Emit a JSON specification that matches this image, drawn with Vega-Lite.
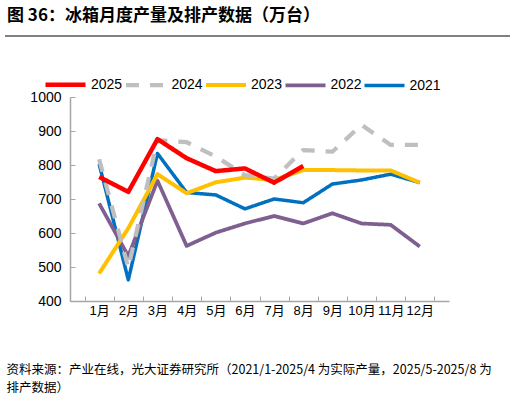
{
  "$schema": "https://vega.github.io/schema/vega-lite/v6.json",
  "width": 379,
  "height": 204,
  "autosize": "none",
  "padding": {"left": 70, "top": 97, "right": 67, "bottom": 98},
  "background": "white",
  "config": {
    "view": {"stroke": null},
    "font": "Liberation Sans, Noto Sans CJK SC",
    "axis": {"grid": false, "domainColor": "#A6A6A6", "tickColor": "#A6A6A6", "labelColor": "#000000", "labelFont": "Liberation Sans, Noto Sans CJK SC"}
  },
  "title": {
    "text": "图 36：冰箱月度产量及排产数据（万台）",
    "anchor": "start",
    "frame": "group",
    "font": "Noto Sans CJK SC",
    "fontSize": 17,
    "fontWeight": "bold",
    "color": "#000000",
    "dx": -63,
    "offset": 10
  },
  "datasets": {
    "prod": [
      {"month": "1月", "year": "2021", "value": 803},
      {"month": "2月", "year": "2021", "value": 462},
      {"month": "3月", "year": "2021", "value": 834},
      {"month": "4月", "year": "2021", "value": 719},
      {"month": "5月", "year": "2021", "value": 712},
      {"month": "6月", "year": "2021", "value": 671},
      {"month": "7月", "year": "2021", "value": 700},
      {"month": "8月", "year": "2021", "value": 689},
      {"month": "9月", "year": "2021", "value": 744},
      {"month": "10月", "year": "2021", "value": 756},
      {"month": "11月", "year": "2021", "value": 773},
      {"month": "12月", "year": "2021", "value": 748},
      {"month": "1月", "year": "2022", "value": 687},
      {"month": "2月", "year": "2022", "value": 532},
      {"month": "3月", "year": "2022", "value": 754},
      {"month": "4月", "year": "2022", "value": 562},
      {"month": "5月", "year": "2022", "value": 601},
      {"month": "6月", "year": "2022", "value": 628},
      {"month": "7月", "year": "2022", "value": 650},
      {"month": "8月", "year": "2022", "value": 628},
      {"month": "9月", "year": "2022", "value": 658},
      {"month": "10月", "year": "2022", "value": 628},
      {"month": "11月", "year": "2022", "value": 624},
      {"month": "12月", "year": "2022", "value": 560},
      {"month": "1月", "year": "2023", "value": 481},
      {"month": "2月", "year": "2023", "value": 614},
      {"month": "3月", "year": "2023", "value": 773},
      {"month": "4月", "year": "2023", "value": 717},
      {"month": "5月", "year": "2023", "value": 749},
      {"month": "6月", "year": "2023", "value": 763},
      {"month": "7月", "year": "2023", "value": 756},
      {"month": "8月", "year": "2023", "value": 785},
      {"month": "9月", "year": "2023", "value": 785},
      {"month": "10月", "year": "2023", "value": 784},
      {"month": "11月", "year": "2023", "value": 784},
      {"month": "12月", "year": "2023", "value": 748},
      {"month": "1月", "year": "2024", "value": 817},
      {"month": "2月", "year": "2024", "value": 498},
      {"month": "3月", "year": "2024", "value": 873},
      {"month": "4月", "year": "2024", "value": 867},
      {"month": "5月", "year": "2024", "value": 825},
      {"month": "6月", "year": "2024", "value": 770},
      {"month": "7月", "year": "2024", "value": 760},
      {"month": "8月", "year": "2024", "value": 844},
      {"month": "9月", "year": "2024", "value": 839},
      {"month": "10月", "year": "2024", "value": 918},
      {"month": "11月", "year": "2024", "value": 859},
      {"month": "12月", "year": "2024", "value": 859},
      {"month": "1月", "year": "2025", "value": 765},
      {"month": "2月", "year": "2025", "value": 721},
      {"month": "3月", "year": "2025", "value": 876},
      {"month": "4月", "year": "2025", "value": 820},
      {"month": "5月", "year": "2025", "value": 782},
      {"month": "6月", "year": "2025", "value": 790},
      {"month": "7月", "year": "2025", "value": 748},
      {"month": "8月", "year": "2025", "value": 797}
    ]
  },
  "layer": [
    {
      "data": {"values": [{"a": 1}]},
      "mark": {"type": "rule", "stroke": "#808080", "strokeWidth": 2},
      "encoding": {
        "x": {"value": -65},
        "x2": {"value": 440},
        "y": {"value": -61}
      }
    },
    {
      "data": {"name": "prod"},
      "mark": {"type": "line", "strokeCap": "butt", "strokeJoin": "round"},
      "encoding": {
        "x": {
          "field": "month",
          "type": "ordinal",
          "sort": ["1月","2月","3月","4月","5月","6月","7月","8月","9月","10月","11月","12月"],
          "scale": {"paddingInner": 0, "paddingOuter": 0.5},
          "axis": {
            "title": ["资料来源：产业在线，光大证券研究所（2021/1-2025/4 为实际产量，2025/5-2025/8 为", "排产数据）"],
            "titleFont": "Noto Sans CJK SC",
            "titleFontSize": 12.5,
            "titleFontWeight": "normal",
            "titleColor": "#000000",
            "titleAnchor": "start",
            "titleAlign": "left",
            "titleBaseline": "top",
            "titleX": -64,
            "titleY": 62,
            "titleLineHeight": 18,
            "labelAngle": 0,
            "labelFontSize": 13,
            "labelPadding": 8,
            "tickSize": -5,
            "tickBand": "extent",
            "domainWidth": 1.5
          }
        },
        "y": {
          "field": "value",
          "type": "quantitative",
          "scale": {"domain": [400, 1000], "nice": false},
          "axis": {"title": null, "format": "d", "values": [400,500,600,700,800,900,1000], "labelFontSize": 14, "labelPadding": 14, "tickSize": -5, "domainWidth": 1.5}
        },
        "color": {
          "field": "year",
          "type": "nominal",
          "scale": {"domain": ["2025","2024","2023","2022","2021"], "range": ["#FF0000","#BFBFBF","#FFC000","#7F5F8F","#0070C0"]},
          "legend": {
            "title": null,
            "orient": "none",
            "direction": "horizontal",
            "legendX": -27,
            "legendY": -35,
            "symbolType": "stroke",
            "symbolSize": 1600,
            "labelFontSize": 14,
            "labelColor": "#000000",
            "labelOffset": 3,
            "columnPadding": -5.5,
            "labelFont": "Liberation Sans"
          }
        },
        "strokeDash": {
          "field": "year",
          "type": "nominal",
          "scale": {"domain": ["2025","2024","2023","2022","2021"], "range": [[1,0],[13,11],[1,0],[1,0],[1,0]]},
          "legend": null
        },
        "strokeWidth": {
          "field": "year",
          "type": "nominal",
          "scale": {"domain": ["2025","2024","2023","2022","2021"], "range": [4.5,3.5,3,3,3]},
          "legend": null
        }
      }
    }
  ]
}
